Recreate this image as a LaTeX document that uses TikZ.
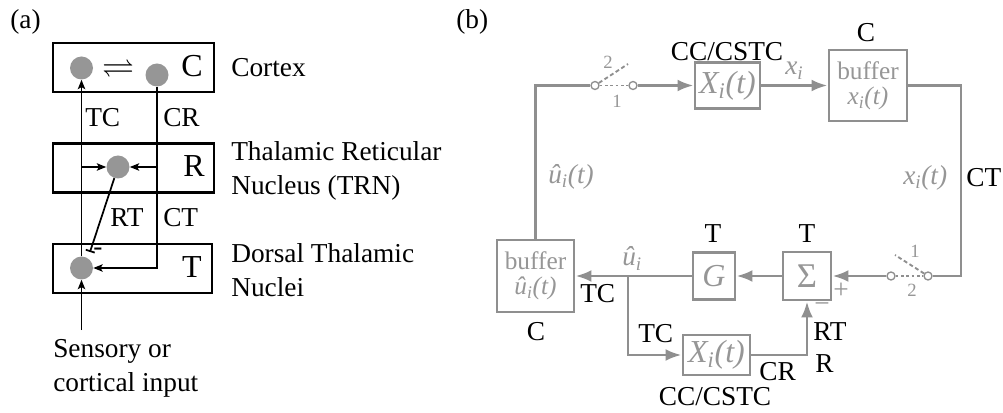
\documentclass[tikz,border=0pt]{standalone}
\usepackage{amssymb}
\usepackage{fontspec}
\setmainfont{Liberation Serif}
\usetikzlibrary{arrows.meta}
\definecolor{wiregray}{RGB}{143,143,143}
\definecolor{textgray}{RGB}{150,150,150}
\definecolor{cellgray}{RGB}{150,150,150}
\newcommand{\pxsize}{0.75pt}
\newcommand{\labelfont}{\fontsize{20.5}{25.5}\selectfont}
\newcommand{\boxfont}{\fontsize{24}{28}\selectfont}
\newcommand{\bufferfont}{\fontsize{19}{19}\selectfont}
\newcommand{\Xoft}{\textit{X\textsubscript{i}(t)}}
\newcommand{\xoft}{\textit{x\textsubscript{i}(t)}}
\newcommand{\uoft}{\textit{û\textsubscript{i}(t)}}
\tikzstyle{figurescale}=[x=\pxsize, y=-\pxsize]
\tikzstyle{region}=[draw, line width=2.2pt, inner sep=0, minimum width=161*\pxsize, minimum height=49*\pxsize]
\tikzstyle{neuron}=[circle, fill=cellgray, inner sep=0, minimum size=23*\pxsize]
\tikzstyle{link}=[line width=1.3pt, -{Stealth[length=7pt, width=5.5pt, inset=1.5pt]}]
\tikzstyle{lab}=[inner sep=0, font=\labelfont]
\tikzstyle{glab}=[lab, text=textgray]
\tikzstyle{small}=[inner sep=0, text=textgray, font=\fontsize{14}{14}\selectfont]
\tikzstyle{block}=[draw=wiregray, line width=2.2pt, text=textgray, inner sep=0, align=center]
\tikzstyle{wire}=[draw=wiregray, line width=2.2pt]
\tikzstyle{flow}=[wire, -{Latex[length=12pt, width=9pt]}]
\tikzstyle{contact}=[circle, draw=wiregray, fill=white, line width=1pt, inner sep=0, minimum size=8*\pxsize]
\tikzstyle{blade}=[draw=wiregray, line width=1.4pt, dash pattern=on 3pt off 2pt]
\tikzstyle{gap}=[draw=wiregray, line width=1.4pt, dash pattern=on 2pt off 2pt]

\begin{document}
\begin{tikzpicture}[figurescale]
        \useasboundingbox (0,0) rectangle (1003,413);
        % (a) circuit
        \node[lab, anchor=base west] (labA) at (10,29) {(a)};
        \node[region] (boxC) at (133.5,67.5) {};
        \node[region] (boxR) at (133.5,168) {};
        \node[region, minimum width=159*\pxsize] (boxT) at (132.5,268.5) {};
        \node[neuron] (cC1) at (81.5,68) {};
        \node[neuron] (cC2) at (157,75) {};
        \node[neuron] (cR) at (118,167) {};
        \node[neuron] (cT) at (81.5,268) {};
        \node[lab, font=\boxfont, anchor=base] (nameC) at (192,77) {C};
        \node[lab, font=\boxfont, anchor=base] (nameR) at (194,177) {R};
        \node[lab, font=\boxfont, anchor=base] (nameT) at (192,277) {T};
        \node[lab, font=\boxfont] (swapC) at (118,68) {$\rightleftharpoons$};
        \coordinate (inputEnd) at (81.5,330);
        \coordinate (tcBranch) at (81.5,167);
        \coordinate (crBranch) at (157,167);
        \coordinate (rtEnd) at (90,252);
        \draw[link] (inputEnd) -- (cT);
        \draw[link] (cT) -- (cC1);
        \draw[link] (tcBranch) -- (cR);
        \draw[link] (crBranch) -- (cR);
        \draw[link] (cC2) |- (cT);
        \draw[line width=1.3pt, -{Bar[width=7pt]}] (cR) -- (rtEnd);
        \node[lab, anchor=base] (rtSign) at (98,256) {-};
        \node[lab, anchor=base west] (tcText) at (85,127) {TC};
        \node[lab, anchor=base west] (crText) at (163,127) {CR};
        \node[lab, anchor=base west] (rtText) at (110,227) {RT};
        \node[lab, anchor=base west] (ctText) at (163,227) {CT};
        \node[lab, anchor=base west] (cortexText) at (231,77) {Cortex};
        \node[lab, anchor=west, align=left] (trnText) at (231,171) {Thalamic Reticular\\Nucleus (TRN)};
        \node[lab, anchor=west, align=left] (dtnText) at (231,270) {Dorsal Thalamic\\Nuclei};
        \node[lab, anchor=west, align=left] (inputText) at (53,368) {Sensory or\\cortical input};
        % (b) loop
        \node[lab, anchor=base west] (labB) at (456,29) {(b)};
        \node[block, minimum width=65*\pxsize, minimum height=46*\pxsize, font=\boxfont] (xTop) at (727.5,85.5) {\Xoft};
        \node[block, minimum width=78*\pxsize, minimum height=71*\pxsize, font=\bufferfont] (bufX) at (868,85.5) {buffer\\\xoft};
        \node[block, minimum width=48*\pxsize, minimum height=48*\pxsize, font=\fontsize{26}{26}\selectfont] (sigma) at (807,276) {Σ};
        \node[block, minimum width=42*\pxsize, minimum height=47*\pxsize, font=\boxfont] (gain) at (714,276) {\textit{G}};
        \node[block, minimum width=77*\pxsize, minimum height=72*\pxsize, font=\bufferfont] (bufU) at (535.5,276) {buffer\\\uoft};
        \node[block, minimum width=67*\pxsize, minimum height=40*\pxsize, font=\boxfont] (xBot) at (716.5,355) {\Xoft};
        \node[contact] (sw1L) at (595,85.5) {};
        \node[contact] (sw1R) at (633,85.5) {};
        \node[contact] (sw2L) at (891,276) {};
        \node[contact] (sw2R) at (928,276) {};
        \coordinate (sw1Tip) at (628,64);
        \coordinate (sw2Tip) at (895,255);
        \coordinate (ctCorner) at (961,276);
        \coordinate (tcSplit) at (628,276);
        \draw[wire] (bufU) |- (sw1L);
        \draw[gap] (sw1L) -- (sw1R);
        \draw[blade] (sw1L) -- (sw1Tip);
        \draw[flow] (sw1R) -- (xTop);
        \draw[flow] (xTop) -- (bufX);
        \draw[wire] (bufX) -| (ctCorner) -- (sw2R);
        \draw[gap] (sw2L) -- (sw2R);
        \draw[blade] (sw2R) -- (sw2Tip);
        \draw[flow] (sw2L) -- (sigma);
        \draw[flow] (sigma) -- (gain);
        \draw[flow] (gain) -- (bufU);
        \draw[flow] (tcSplit) |- (xBot);
        \draw[flow] (xBot) -| (sigma);
        \node[lab, anchor=base] (ccTop) at (727,61) {CC/CSTC};
        \node[lab, anchor=base] (cTop) at (866,42) {C};
        \node[glab, anchor=base west] (xiLabel) at (785,75) {\textit{x\textsubscript{i}}};
        \node[glab, anchor=west] (xtLabel) at (903,178) {\xoft};
        \node[lab, anchor=base west] (ctLabel) at (966,187) {CT};
        \node[small] (sw1Two) at (608,62) {2};
        \node[small] (sw1One) at (617,101) {1};
        \node[small] (sw2One) at (915,251) {1};
        \node[small] (sw2Two) at (912,290) {2};
        \node[glab] (plusSign) at (841,291) {+};
        \node[glab] (minusSign) at (822,308) {−};
        \node[lab, anchor=base] (tSigma) at (807,243) {T};
        \node[lab, anchor=base] (tGain) at (713,243) {T};
        \node[lab, anchor=base west] (rtLabel) at (813,340) {RT};
        \node[lab, anchor=base west] (rLabel) at (815,373) {R};
        \node[lab, anchor=base west] (crLabel) at (759,380) {CR};
        \node[lab, anchor=base] (ccBot) at (715,405) {CC/CSTC};
        \node[lab, anchor=base west] (tcSplitLabel) at (638,342) {TC};
        \node[lab, anchor=base west] (tcBufLabel) at (580,303) {TC};
        \node[glab, anchor=base west] (uiLabel) at (622,266) {\textit{û\textsubscript{i}}};
        \node[lab, anchor=base] (cBot) at (536,340) {C};
        \node[glab, anchor=west] (utLabel) at (548,177) {\uoft};
    \end{tikzpicture}
\end{document}
